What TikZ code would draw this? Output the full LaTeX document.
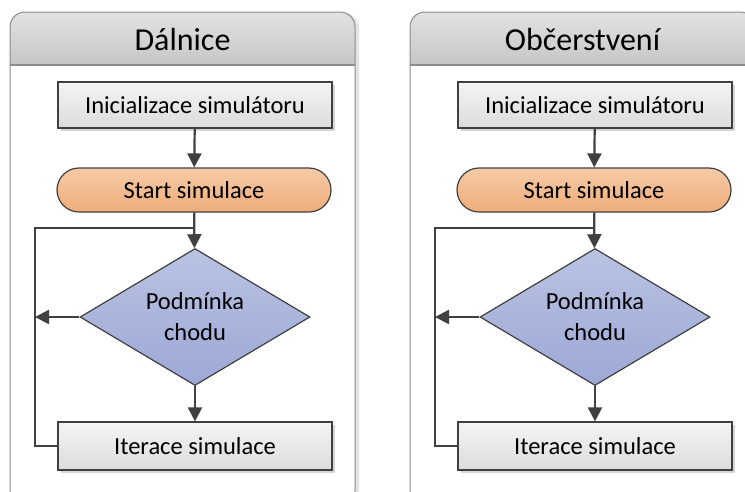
\documentclass[tikz,border=0pt]{standalone}
\usepackage{fontspec}
\setmainfont{Carlito}
\usetikzlibrary{shapes.geometric,arrows.meta,shadows}

\definecolor{edge}{HTML}{404040}
\definecolor{panelline}{HTML}{8C8C8C}
\definecolor{panelshade}{HTML}{E4E4E4}
\definecolor{hdtop}{HTML}{E2E2E2}
\definecolor{hdbot}{HTML}{C6C6C6}
\definecolor{boxtop}{HTML}{F4F4F4}
\definecolor{boxbot}{HTML}{DCDCDC}
\definecolor{boxshade}{HTML}{D6D6D6}
\definecolor{orgtop}{HTML}{F6CBA8}
\definecolor{orgbot}{HTML}{EEAC78}
\definecolor{blutop}{HTML}{B9C3E3}
\definecolor{blubot}{HTML}{9DA8D6}

\tikzset{
  stepbox/.style={rectangle, draw=edge, line width=1.2pt,
    top color=boxtop, bottom color=boxbot,
    minimum width=274pt, minimum height=46pt, inner sep=0pt,
    font=\fontsize{24.5}{28}\selectfont,
    drop shadow={shadow xshift=3pt, shadow yshift=-3pt, fill=boxshade, opacity=1}},
  startbox/.style={rectangle, rounded corners=22pt, draw=edge, line width=1.2pt,
    top color=orgtop, bottom color=orgbot,
    minimum width=274pt, minimum height=44pt, inner sep=0pt,
    font=\fontsize{24.5}{28}\selectfont},
  decision/.style={diamond, shape aspect=1.68, draw=edge, line width=1.2pt,
    top color=blutop, bottom color=blubot,
    minimum width=230pt, minimum height=137pt, inner sep=0pt,
    align=center, font=\fontsize{24.5}{31}\selectfont},
  wire/.style={draw=edge, line width=2.2pt},
  flow/.style={wire, -{Triangle[length=14pt,width=14pt]}},
  title/.style={font=\fontsize{32}{36}\selectfont}
}

% one swim lane: #1 = horizontal offset, #2 = heading, #3 = name prefix
\newcommand\drawlane[3]{%
  \begin{scope}[shift={(#1,0)}]
    % lane frame with its soft shadow
    \fill[panelshade, rounded corners=15pt] (14,13) rectangle (359,505);
    \fill[white, rounded corners=15pt] (10,12) rectangle (355,505);
    \path[top color=hdtop, bottom color=hdbot]
      (10,65) [rounded corners=15pt] -- (10,12) -- (355,12) [sharp corners] -- (355,65) -- cycle;
    \draw[panelline, line width=1.2pt] (10,65) -- (355,65);
    \draw[panelline, line width=1pt, rounded corners=15pt] (10,12) rectangle (355,505);
    \node[title] (#3title) at (182.5,40) {#2};
    % flow of the simulation
    \node[stepbox] (#3init) at (195,105) {Inicializace simulátoru};
    \node[startbox] (#3start) at (194,190) {Start simulace};
    \node[decision] (#3cond) at (195,317) {Podmínka\\chodu};
    \node[stepbox, minimum height=48pt] (#3iter) at (195,446) {Iterace simulace};
    \coordinate (#3loop) at (35,228);
    \draw[flow] (#3init) -- (#3start);
    \draw[flow] (#3start) -- (#3cond);
    \draw[flow] (#3cond) -- (#3iter);
    \draw[wire] (#3iter.west) -| (#3loop) -- (#3loop -| #3start.south);
    \draw[flow] (#3cond.west) -- (#3cond.west -| #3loop);
  \end{scope}}

\begin{document}
\begin{tikzpicture}[x=1pt, y=-1pt]
  \useasboundingbox (0,0) rectangle (745,491);
  \clip (0,0) rectangle (745,491);
  \fill[white] (0,0) rectangle (745,491);
  \drawlane{0}{Dálnice}{a}
  \drawlane{400}{Občerstvení}{b}
\end{tikzpicture}
\end{document}
